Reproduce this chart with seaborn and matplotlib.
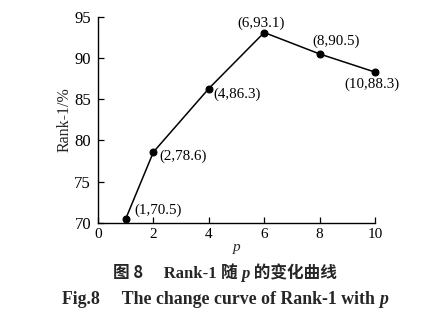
import matplotlib
matplotlib.use("Agg")
import matplotlib.pyplot as plt
import seaborn as sns
import pandas as pd

p_values = [1, 2, 4, 6, 8, 10]
rank1 = [70.5, 78.6, 86.3, 93.1, 90.5, 88.3]
x_ticks = [0, 2, 4, 6, 8, 10]
y_ticks = [70, 75, 80, 85, 90, 95]

sns.set_theme(style="ticks")
plt.rcParams["font.family"] = ["Liberation Serif", "DejaVu Serif"]

df = pd.DataFrame({"p": p_values, "rank1": rank1})

fig = plt.figure(figsize=(4.3, 3.24), dpi=100)
ax = fig.add_axes([0.228, 0.312, 0.644, 0.636])
sns.lineplot(data=df, x="p", y="rank1", ax=ax, color="black", linewidth=1.1,
             marker="o", markersize=5, markeredgecolor="black", clip_on=False)

ax.set_xlim(0, 10)
ax.set_ylim(70, 95)
ax.set_xticks(x_ticks)
ax.set_yticks(y_ticks)
ax.tick_params(direction="in", length=4, width=0.9, colors="black")
ax.tick_params(axis="x", labelsize=11, pad=4)
ax.tick_params(axis="y", labelsize=12, pad=5)
for s in ["top", "right"]:
    ax.spines[s].set_visible(False)
for s in ["left", "bottom"]:
    ax.spines[s].set_linewidth(1.0)
    ax.spines[s].set_color("black")

ax.set_xlabel("p", fontsize=11, style="italic", labelpad=0)
ax.set_ylabel("Rank-1/%", fontsize=11.5, labelpad=1)

# label placements (offsets in points, alignment)
offsets = [((6, 1), "left", "bottom"),
           ((4, 2), "left", "top"),
           ((3, 1), "left", "top"),
           ((-2, 2), "center", "bottom"),
           ((-5, 4), "left", "bottom"),
           ((-2, -4), "center", "top")]
for x, y, (off, ha, va) in zip(p_values, rank1, offsets):
    ax.annotate(f"({x},{y})", (x, y), xytext=off, textcoords="offset points",
                ha=ha, va=va, fontsize=10.8, color="black")

SERIF = "Liberation Serif"
CJK = "Noto Sans CJK SC"


def caption_line(pieces, y, size, centre=0.523):
    """Draw a run of text pieces with mixed fonts, centred on `centre`."""
    renderer = fig.canvas.get_renderer()
    texts = []
    for s, fam, style in pieces:
        t = fig.text(0, y, s, fontsize=size, fontweight="bold", family=fam,
                     style=style, va="baseline", ha="left")
        texts.append(t)
    widths = [t.get_window_extent(renderer).width for t in texts]
    total = sum(widths)
    fig_w = fig.bbox.width
    x = centre * fig_w - total / 2
    for t, w in zip(texts, widths):
        t.set_x(x / fig_w)
        x += w


caption_line([("图 8", CJK, "normal"), ("\u2003 Rank-1 ", SERIF, "normal"),
              ("随 ", CJK, "normal"), ("p", SERIF, "italic"),
              (" 的变化曲线", CJK, "normal")], 0.142, 12)
caption_line([("Fig.8\u2003 The change curve of Rank-1 with ", SERIF, "normal"),
              ("p", SERIF, "italic")], 0.062, 12.8)

fig.savefig("out.png", dpi=100, facecolor="white")
